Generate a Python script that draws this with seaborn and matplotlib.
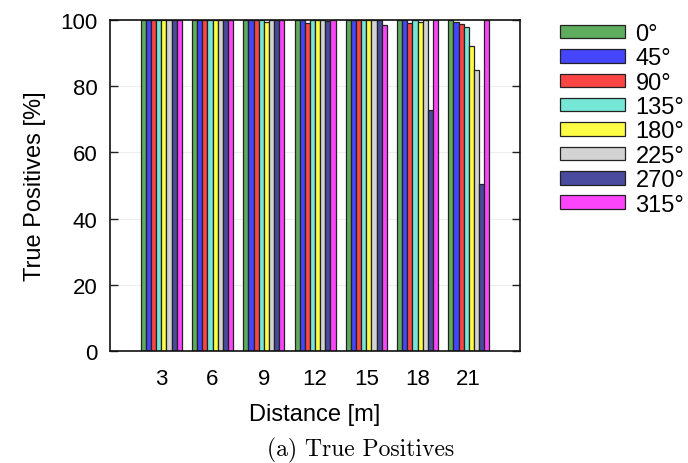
import matplotlib
matplotlib.use("Agg")
import matplotlib.pyplot as plt
import seaborn as sns
import pandas as pd

# Detection rate per distance for each viewing angle
distances = [3, 6, 9, 12, 15, 18, 21]
angles = ["0°", "45°", "90°", "135°", "180°", "225°", "270°", "315°"]
tp_0 = [100, 100, 100, 100, 100, 100, 100]
tp_45 = [100, 100, 100, 100, 100, 100, 99.3]
tp_90 = [100, 100, 100, 99.0, 100, 99.0, 98.9]
tp_135 = [100, 100, 100, 100, 100, 100, 97.8]
tp_180 = [100, 100, 99.5, 100, 100, 99.3, 92.0]
tp_225 = [100, 100, 100, 100, 100, 100, 85.0]
tp_270 = [100, 100, 100, 99.6, 100, 72.8, 50.4]
tp_315 = [100, 100, 100, 100, 98.5, 100, 100]

colors = ["#5fac5f", "#4545fb", "#fb4545", "#76e6d6", "#fdfd45",
          "#d3d3d3", "#4a4a9e", "#fb45fb"]

series = [tp_0, tp_45, tp_90, tp_135, tp_180, tp_225, tp_270, tp_315]
rows = []
for ang, vals in zip(angles, series):
    for d, v in zip(distances, vals):
        rows.append({"Distance": str(d), "Angle": ang, "TP": v})
df = pd.DataFrame(rows)

sns.set_style("white")
plt.rcParams["font.family"] = ["Liberation Sans", "DejaVu Sans"]
plt.rcParams["text.color"] = "black"
plt.rcParams["axes.labelcolor"] = "black"
plt.rcParams["xtick.color"] = "black"
plt.rcParams["ytick.color"] = "black"

fig = plt.figure(figsize=(6.88, 4.64), dpi=100)
ax = fig.add_axes([110 / 688, 1 - 352 / 464, 410 / 688, 331 / 464])

sns.barplot(data=df, x="Distance", y="TP", hue="Angle",
            order=[str(d) for d in distances], hue_order=angles,
            palette=colors, width=0.8, edgecolor="#222222", linewidth=0.9,
            errorbar=None, ax=ax, saturation=1)

ax.set_xlim(-1, 7)
ax.set_ylim(0, 100)
ax.set_yticks([0, 20, 40, 60, 80, 100])
ax.yaxis.grid(True, color="#eeeeee", linewidth=0.8)
ax.set_axisbelow(True)
ax.tick_params(axis="y", direction="in", length=6, width=1, left=True,
               right=True, labelsize=16, pad=9, color="#222222")
ax.tick_params(axis="x", length=0, labelsize=16, pad=12)
for sp in ax.spines.values():
    sp.set_visible(True)
    sp.set_color("#111111")
    sp.set_linewidth(1.2)

ax.set_xlabel("Distance [m]", fontsize=17, labelpad=10)
ax.set_ylabel("True Positives [%]", fontsize=17, labelpad=10)

handles, labels = ax.get_legend_handles_labels()
ax.legend(handles, labels, loc="upper left",
          bbox_to_anchor=(560 / 688, 1 - 24 / 464), bbox_transform=fig.transFigure,
          frameon=False, fontsize=17, handlelength=2.75, handleheight=0.5,
          labelspacing=0.1, handletextpad=0.45, borderaxespad=0.0, borderpad=0.0)

fig.text(361 / 688, 1 - 450 / 464, "(a) True Positives", ha="center",
         va="center", fontsize=17, family=["cmr10", "DejaVu Serif"])

fig.savefig("out.png", dpi=100)
